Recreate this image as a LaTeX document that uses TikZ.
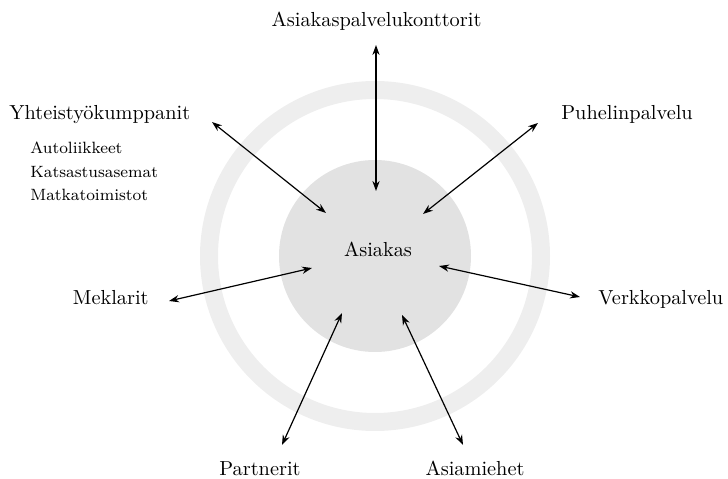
\documentclass[tikz,border=0pt]{standalone}
\usetikzlibrary{arrows.meta}
\definecolor{ringgray}{gray}{0.935}
\definecolor{discgray}{gray}{0.885}
\tikzset{
lbl/.style={font=\fontsize{10.2}{12}\selectfont,inner sep=0pt},
sublbl/.style={font=\fontsize{8.2}{10}\selectfont,inner sep=0pt,anchor=base west},
arrow/.style={{Stealth[length=5bp,width=3.6bp]}-{Stealth[length=5bp,width=3.6bp]},line width=0.6pt}
}
\begin{document}
\begin{tikzpicture}[x=0.5bp,y=-0.5bp]
\useasboundingbox (0,0) rectangle (728,479);
\draw[ringgray,line width=9bp](375,256) circle[radius=166];
\fill[discgray](375,256) circle[radius=96];
\node[lbl,anchor=base](asiakas) at (378,257){Asiakas};
\node[lbl,anchor=base](konttorit) at (376.5,27){Asiakaspalvelukonttorit};
\node[lbl,anchor=base west](yhteistyo) at (9,120){Yhteistyökumppanit};
\node[sublbl](auto) at (30,154){Autoliikkeet};
\node[sublbl](katsastus) at (30,178){Katsastusasemat};
\node[sublbl](matka) at (30,201){Matkatoimistot};
\node[lbl,anchor=base west](puhelin) at (561,120){Puhelinpalvelu};
\node[lbl,anchor=base east](meklarit) at (149,305){Meklarit};
\node[lbl,anchor=base west](verkko) at (598,305){Verkkopalvelu};
\node[lbl,anchor=base](partnerit) at (260,476){Partnerit};
\node[lbl,anchor=base](asiamiehet) at (475,476){Asiamiehet};
% arrow ends
\coordinate (k1) at (376,45);  \coordinate (k2) at (376,191);
\coordinate (y1) at (212,122); \coordinate (y2) at (326,213);
\coordinate (p1) at (538,123); \coordinate (p2) at (423,214);
\coordinate (m1) at (169,301); \coordinate (m2) at (312,268);
\coordinate (v1) at (580,297); \coordinate (v2) at (439,266);
\coordinate (pa1) at (282,445); \coordinate (pa2) at (342,313);
\coordinate (as1) at (463,445); \coordinate (as2) at (402,315);
\foreach \x/\y in {k1/k2,y1/y2,p1/p2,m1/m2,v1/v2,pa1/pa2,as1/as2} \draw[arrow](\x)--(\y);
\end{tikzpicture}
\end{document}
